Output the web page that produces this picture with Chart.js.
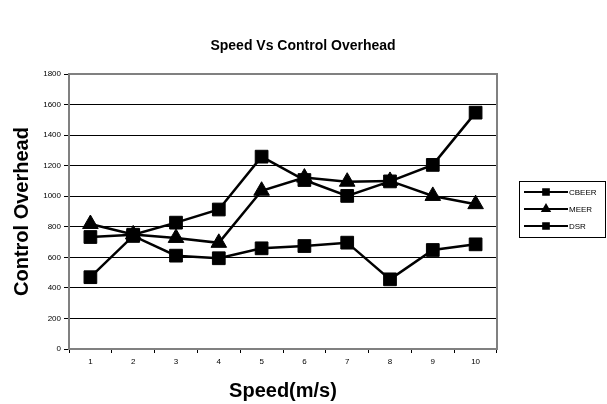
<!DOCTYPE html>
<html>
<head>
<meta charset="utf-8">
<script src="https://cdn.jsdelivr.net/npm/chart.js@4.4.1/dist/chart.umd.min.js"></script>
<style>
  html, body { margin: 0; padding: 0; background: #fff; }
  #wrap { width: 607px; height: 404px; position: relative; }
</style>
</head>
<body>
<div id="wrap"><canvas id="chart" width="607" height="404"></canvas></div>
<script>
const speeds = ['1', '2', '3', '4', '5', '6', '7', '8', '9', '10'];
const cbeer = [470, 740, 611, 594, 659, 674, 696, 456, 648, 685];
const meer = [818, 750, 727, 695, 1036, 1122, 1095, 1100, 1002, 948];
const dsr = [733, 748, 827, 913, 1259, 1106, 1002, 1097, 1205, 1547];
const yTicks = [0, 200, 400, 600, 800, 1000, 1200, 1400, 1600, 1800];

const seriesNames = ['CBEER', 'MEER', 'DSR'];
const seriesStyles = ['rect', 'triangle', 'rect'];

// titles and legend drawn by hand so they sit where the reference has them
const decorations = {
  id: 'decorations',
  afterDraw(chart) {
    const ctx = chart.ctx;
    const area = chart.chartArea;
    ctx.save();
    ctx.fillStyle = '#000';
    ctx.textAlign = 'center';
    ctx.textBaseline = 'middle';
    ctx.font = 'bold 14px Arial, "Liberation Sans", sans-serif';
    ctx.fillText('Speed Vs Control Overhead', 303, 46);
    ctx.font = 'bold 20px Arial, "Liberation Sans", sans-serif';
    ctx.fillText('Speed(m/s)', (area.left + area.right) / 2, 391);
    ctx.translate(22, (area.top + area.bottom) / 2);
    ctx.rotate(-Math.PI / 2);
    ctx.fillText('Control Overhead', 0, 0);
    ctx.restore();

    // plot frame
    ctx.save();
    ctx.strokeStyle = '#808080';
    ctx.lineWidth = 2;
    ctx.beginPath();
    ctx.moveTo(area.left, area.top);
    ctx.lineTo(area.right, area.top);
    ctx.lineTo(area.right, area.bottom);
    ctx.stroke();
    ctx.restore();

    // legend
    ctx.save();
    ctx.strokeStyle = '#000';
    ctx.fillStyle = '#000';
    ctx.lineWidth = 1;
    ctx.strokeRect(519.5, 181.5, 86, 56);
    ctx.font = '8px Arial, "Liberation Sans", sans-serif';
    ctx.textAlign = 'left';
    ctx.textBaseline = 'middle';
    seriesNames.forEach((name, i) => {
      const y = 192 + i * 17;
      ctx.lineWidth = 2;
      ctx.beginPath();
      ctx.moveTo(524, y);
      ctx.lineTo(568, y);
      ctx.stroke();
      Chart.helpers.drawPoint(ctx, { pointStyle: seriesStyles[i], radius: 4, rotation: 0, borderWidth: 1 }, 546, y);
      ctx.fill();
      ctx.fillText(name, 569, y + 1);
    });
    ctx.restore();
  }
};

const makeSet = (label, data, style) => ({
  label: label,
  data: data,
  borderColor: '#000',
  backgroundColor: '#000',
  borderWidth: 2.5,
  pointStyle: style,
  pointRadius: 9,
  pointBorderWidth: 1,
  pointBackgroundColor: '#000',
  pointBorderColor: '#000',
  tension: 0
});

const tickFont = { size: 8, family: 'Arial, "Liberation Sans", sans-serif' };

new Chart(document.getElementById('chart'), {
  type: 'line',
  data: {
    labels: speeds,
    datasets: [
      makeSet('CBEER', cbeer, 'rect'),
      makeSet('MEER', meer, 'triangle'),
      makeSet('DSR', dsr, 'rect')
    ]
  },
  options: {
    responsive: false,
    animation: false,
    layout: { padding: { left: 0, right: 110, top: 74, bottom: 0 } },
    plugins: {
      legend: { display: false },
      title: { display: false },
      tooltip: { enabled: false }
    },
    scales: {
      x: {
        offset: true,
        grid: { offset: true, drawOnChartArea: false, color: '#000', tickLength: 4, tickColor: '#000' },
        border: { color: '#808080', width: 2 },
        ticks: { color: '#000', font: tickFont, padding: 4, maxRotation: 0 },
        afterFit(scale) { scale.height = 55; }
      },
      y: {
        min: 0,
        max: 1800,
        afterBuildTicks(scale) { scale.ticks = yTicks.map(v => ({ value: v })); },
        grid: { color: '#000', lineWidth: 1, tickLength: 5, tickColor: '#000' },
        border: { color: '#808080', width: 2 },
        ticks: { color: '#000', font: tickFont, padding: 3, callback: v => String(v) },
        afterFit(scale) { scale.width = 69; }
      }
    }
  },
  plugins: [decorations]
});
</script>
</body>
</html>
